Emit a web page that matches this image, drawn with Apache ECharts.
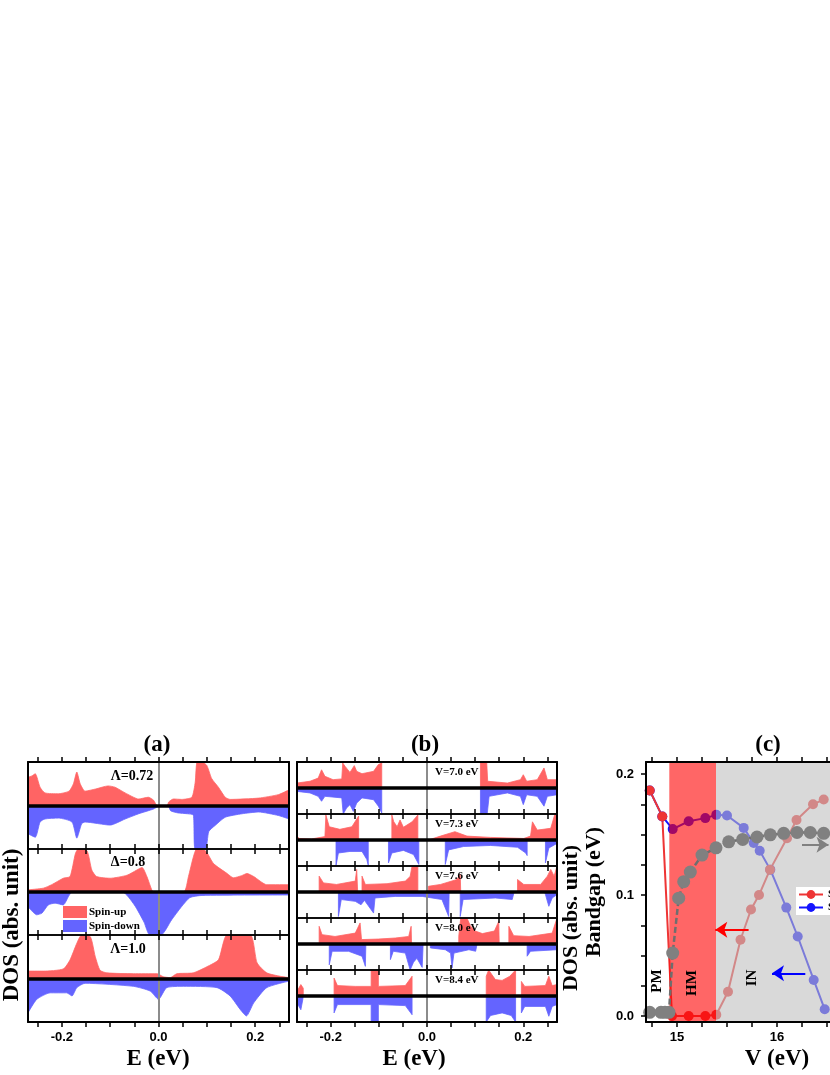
<!DOCTYPE html>
<html><head><meta charset="utf-8">
<script src="https://cdn.jsdelivr.net/npm/echarts@6/dist/echarts.min.js"></script>
<style>html,body{margin:0;padding:0;background:#fff}#c{width:830px;height:1075px}</style>
</head><body><div id="c"></div>
<script>
// ---------------- DATA ----------------
const E_TICKS = [-0.25,-0.2,-0.15,-0.1,-0.05,0,0.05,0.1,0.15,0.2,0.25];
const E_TICK_LABELS = [-0.2,0,0.2];
const PANEL_A_LABELS = ['Λ=0.72','Δ=0.8','Λ=1.0'];
const PANEL_B_LABELS = ['V=7.0 eV','V=7.3 eV','V=7.6 eV','V=8.0 eV','V=8.4 eV'];
const V_TICKS = [14.75,15,15.25,15.5,15.75,16,16.25,16.5];
const V_TICK_LABELS = [15,16];
const GAP_TICKS = [0,0.025,0.05,0.075,0.1,0.125,0.15,0.175,0.2];
const GAP_TICK_LABELS = [0,0.1,0.2];

// panel (a): DOS, relative units (1 = half sub-panel height)
const A1_UP = [[-0.27,0.65],[-0.262,0.68],[-0.255,0.73],[-0.245,0.42],[-0.235,0.29],[-0.207,0.27],[-0.185,0.33],[-0.176,0.5],[-0.169,0.77],[-0.162,0.5],[-0.152,0.33],[-0.13,0.38],[-0.104,0.45],[-0.09,0.42],[-0.069,0.29],[-0.041,0.15],[-0.021,0.19],[-0.01,0.12],[-0.003,0],[0.018,0],[0.021,0.08],[0.031,0.15],[0.048,0.14],[0.069,0.19],[0.076,0.54],[0.080,1.0],[0.09,1.0],[0.1,0.92],[0.11,0.62],[0.124,0.42],[0.138,0.19],[0.148,0.14],[0.207,0.17],[0.248,0.25],[0.27,0.36]];
const A1_DN = [[-0.27,-0.65],[-0.255,-0.73],[-0.245,-0.38],[-0.235,-0.31],[-0.207,-0.29],[-0.179,-0.38],[-0.169,-0.75],[-0.159,-0.42],[-0.152,-0.38],[-0.1,-0.45],[-0.069,-0.31],[-0.041,-0.19],[-0.01,-0.08],[0,-0.02],[0.02,0],[0.025,-0.12],[0.04,-0.17],[0.06,-0.19],[0.072,-0.22],[0.076,-1.0],[0.097,-1.0],[0.104,-0.6],[0.117,-0.46],[0.138,-0.27],[0.173,-0.19],[0.207,-0.15],[0.248,-0.23],[0.27,-0.31]];
const A2_UP = [[-0.27,0.05],[-0.238,0.09],[-0.221,0.17],[-0.197,0.32],[-0.183,0.36],[-0.172,0.89],[-0.166,1.0],[-0.148,0.96],[-0.138,0.51],[-0.128,0.36],[-0.1,0.32],[-0.065,0.39],[-0.045,0.51],[-0.034,0.57],[-0.024,0.36],[-0.014,0.05],[-0.01,0],[0.052,0],[0.062,0.36],[0.072,0.81],[0.079,1.0],[0.097,0.96],[0.114,0.66],[0.142,0.43],[0.155,0.33],[0.172,0.38],[0.183,0.43],[0.197,0.36],[0.224,0.17],[0.27,0.17]];
const A2_DN = [[-0.27,-0.34],[-0.252,-0.53],[-0.241,-0.49],[-0.228,-0.3],[-0.214,-0.26],[-0.197,-0.3],[-0.186,-0.1],[-0.179,0],[-0.075,0],[-0.05,-0.3],[-0.03,-0.7],[-0.018,-1.0],[0.005,-1.0],[0.027,-0.65],[0.047,-0.35],[0.065,-0.13],[0.09,-0.08],[0.27,-0.07]];
const A3_UP = [[-0.27,0.17],[-0.238,0.17],[-0.197,0.22],[-0.183,0.43],[-0.169,0.81],[-0.159,1.0],[-0.141,0.96],[-0.131,0.51],[-0.121,0.19],[-0.107,0.13],[-0.052,0.11],[-0.003,0.11],[0.01,0.04],[0.024,0.02],[0.038,0.11],[0.072,0.13],[0.1,0.27],[0.124,0.43],[0.142,1.0],[0.19,1.0],[0.204,0.36],[0.224,0.13],[0.252,0.05],[0.27,0.02]];
const A3_DN = [[-0.27,-0.79],[-0.252,-0.48],[-0.224,-0.33],[-0.19,-0.33],[-0.179,-0.4],[-0.169,-0.21],[-0.152,-0.11],[-0.052,-0.18],[-0.017,-0.29],[0,-0.48],[0.017,-0.21],[0.052,-0.18],[0.121,-0.21],[0.148,-0.4],[0.169,-0.71],[0.182,-0.86],[0.197,-0.56],[0.224,-0.21],[0.27,-0.06]];

// panel (b)
const B1_UP = [[-0.27,0.19],[-0.243,0.26],[-0.226,0.38],[-0.219,0.7],[-0.212,0.45],[-0.195,0.32],[-0.177,0.35],[-0.175,0.96],[-0.17,0.83],[-0.16,0.6],[-0.151,0.86],[-0.146,0.64],[-0.135,0.55],[-0.111,0.64],[-0.101,0.9],[-0.094,0.96],[-0.094,0],[0.111,0],[0.111,1.0],[0.124,1.0],[0.126,0.26],[0.167,0.19],[0.194,0.32],[0.2,0.51],[0.207,0.26],[0.229,0.32],[0.243,0.77],[0.25,0.32],[0.27,0.32]];
const B1_DN = [[-0.27,-0.13],[-0.243,-0.19],[-0.226,-0.32],[-0.219,-0.51],[-0.212,-0.32],[-0.177,-0.38],[-0.174,-1.0],[-0.167,-0.77],[-0.16,-0.64],[-0.153,-0.9],[-0.146,-0.58],[-0.135,-0.38],[-0.111,-0.45],[-0.101,-0.7],[-0.094,-0.96],[-0.094,0],[0.111,0],[0.111,-1.0],[0.125,-1.0],[0.129,-0.32],[0.167,-0.19],[0.194,-0.32],[0.2,-0.64],[0.207,-0.26],[0.229,-0.32],[0.243,-0.7],[0.25,-0.32],[0.27,-0.26]];
const B2_UP = [[-0.27,0.13],[-0.265,0.06],[-0.24,0.04],[-0.212,0.13],[-0.21,0.96],[-0.203,0.51],[-0.181,0.41],[-0.156,0.51],[-0.142,0.92],[-0.142,0],[-0.073,0],[-0.073,0.96],[-0.069,0.7],[-0.062,0.51],[-0.056,0.77],[-0.049,0.49],[-0.031,0.7],[-0.019,0.96],[-0.019,0],[0.003,0],[0.003,0.06],[0.028,0.15],[0.058,0.32],[0.083,0.15],[0.132,0.1],[0.201,0.06],[0.215,0.15],[0.219,0.7],[0.229,0.38],[0.257,0.45],[0.265,0.96],[0.27,0.96]];
const B2_DN = [[-0.27,0],[-0.189,0],[-0.189,-0.98],[-0.184,-0.5],[-0.16,-0.44],[-0.135,-0.44],[-0.125,-0.75],[-0.122,-0.98],[-0.122,0],[-0.08,0],[-0.08,-0.88],[-0.073,-0.5],[-0.049,-0.4],[-0.028,-0.56],[-0.017,-0.94],[-0.017,0],[0.038,0],[0.038,-0.94],[0.045,-0.38],[0.076,-0.25],[0.132,-0.21],[0.188,-0.28],[0.205,-0.5],[0.208,-0.6],[0.208,0],[0.246,0],[0.246,-0.88],[0.253,-0.31],[0.27,-0.13]];
const B3_UP = [[-0.27,0],[-0.224,0],[-0.224,0.61],[-0.215,0.35],[-0.188,0.29],[-0.149,0.42],[-0.146,0.87],[-0.144,0],[-0.135,0],[-0.135,0.61],[-0.128,0.29],[-0.083,0.32],[-0.045,0.42],[-0.035,0.6],[-0.031,1.0],[-0.019,1.0],[-0.019,0],[0.003,0],[0.003,0.22],[0.028,0.29],[0.062,0.48],[0.069,0.68],[0.07,0],[0.188,0],[0.188,0.48],[0.201,0.29],[0.236,0.29],[0.25,0.61],[0.257,0.87],[0.264,0.61],[0.27,1.0]];
const B3_DN = [[-0.27,0],[-0.184,0],[-0.184,-0.94],[-0.178,-0.29],[-0.149,-0.36],[-0.137,-0.49],[-0.13,-0.32],[-0.111,-0.81],[-0.108,-0.23],[-0.066,-0.17],[-0.01,-0.17],[0.031,-0.29],[0.045,-0.94],[0.046,0],[0.069,0],[0.069,-0.94],[0.075,-0.29],[0.142,-0.23],[0.177,-0.29],[0.181,-0.35],[0.181,0],[0.244,0],[0.246,-0.1],[0.253,-0.55],[0.26,-0.23],[0.27,-0.1]];
const B4_UP = [[-0.27,0],[-0.224,0],[-0.224,0.68],[-0.218,0.36],[-0.191,0.29],[-0.149,0.42],[-0.139,0.81],[-0.136,0.17],[-0.101,0.19],[-0.066,0.23],[-0.038,0.29],[-0.033,0.68],[-0.032,0],[0.066,0],[0.066,0.3],[0.07,1.0],[0.083,1.0],[0.09,0.7],[0.1,0.5],[0.115,0.4],[0.14,0.5],[0.149,0.87],[0.15,0],[0.17,0],[0.17,0.68],[0.18,0.32],[0.212,0.29],[0.26,0.42],[0.27,1.0]];
const B4_DN = [[-0.27,0],[-0.203,0],[-0.203,-0.8],[-0.197,-0.28],[-0.163,-0.28],[-0.135,-0.47],[-0.128,-0.86],[-0.127,0],[-0.076,0],[-0.076,-0.6],[-0.07,-0.28],[-0.045,-0.35],[-0.035,-1.0],[-0.028,-0.7],[-0.021,-0.55],[-0.01,-0.9],[-0.008,0],[0.007,0],[0.007,-0.15],[0.038,-0.22],[0.049,-0.35],[0.052,-0.92],[0.056,-0.35],[0.087,-0.22],[0.101,-0.28],[0.104,-0.3],[0.104,0],[0.208,0],[0.208,-0.47],[0.215,-0.28],[0.27,-0.22]];
const B5_UP = [[-0.27,0.18],[-0.262,0.44],[-0.257,0.3],[-0.257,0],[-0.193,0],[-0.193,0.69],[-0.186,0.4],[-0.149,0.37],[-0.116,0.37],[-0.116,1.0],[-0.101,1.0],[-0.101,0.37],[-0.045,0.4],[-0.031,0.76],[-0.031,0],[0.123,0],[0.123,0.76],[0.128,1.0],[0.142,0.63],[0.156,0.6],[0.172,0.76],[0.184,1.0],[0.184,0],[0.196,0],[0.196,0.56],[0.203,0.37],[0.246,0.4],[0.253,0.76],[0.26,0.4],[0.27,0.44]];
const B5_DN = [[-0.27,-0.27],[-0.262,-0.53],[-0.258,-0.14],[-0.257,0],[-0.193,0],[-0.193,-0.65],[-0.186,-0.33],[-0.116,-0.33],[-0.116,-1.0],[-0.101,-1.0],[-0.101,-0.33],[-0.045,-0.37],[-0.031,-0.72],[-0.031,0],[0.123,0],[0.123,-1.0],[0.132,-0.75],[0.156,-0.65],[0.175,-0.75],[0.184,-1.0],[0.184,0],[0.196,0],[0.196,-0.65],[0.203,-0.4],[0.246,-0.4],[0.253,-0.78],[0.26,-0.4],[0.27,-0.33]];

// panel (c): V (eV) vs bandgap (eV)
const GAP_UP = [[14.727,0.1865],[14.853,0.165],[14.95,0.0],[15.117,0.0],[15.283,0.0],[15.393,0.001],[15.51,0.02],[15.635,0.063],[15.74,0.088],[15.82,0.1],[15.93,0.121],[16.1,0.147],[16.195,0.162],[16.36,0.175],[16.467,0.179]];
const GAP_DN = [[14.727,0.1865],[14.853,0.165],[14.957,0.1545],[15.117,0.161],[15.283,0.1636],[15.393,0.1663],[15.5,0.1658],[15.667,0.1555],[15.767,0.143],[15.827,0.1366],[15.933,0.121],[16.093,0.0896],[16.207,0.0657],[16.367,0.0298],[16.477,0.0055]];
const DOS_EF = [[14.727,0.003],[14.84,0.003],[14.88,0.003],[14.92,0.003],[14.957,0.052],[15.017,0.0974],[15.067,0.111],[15.133,0.119],[15.25,0.133],[15.39,0.139],[15.517,0.144],[15.657,0.146],[15.8,0.148],[15.933,0.1498],[16.067,0.151],[16.2,0.1517],[16.333,0.1517],[16.467,0.151]];
const PHASE_BANDS = [[14.923,15.39],[15.39,16.53]];
const ARROW_UP = [[15.716,0.0712],[15.383,0.0712]];
const ARROW_DN = [[16.283,0.0353],[15.95,0.0353]];
const ARROW_DOS = [[16.25,0.1415],[16.515,0.1415]];

// ---------------- STYLE / LAYOUT ----------------
const RED = '#ff6464', BLUE = '#6464ff';
const SERIF = 'Liberation Serif', SANS = 'Liberation Sans';
const grids = [], xAxes = [], yAxes = [], series = [];

function labelStyle(){ return {fontSize:13, fontWeight:'bold', fontFamily:SANS, color:'#000'}; }

function addGrid(g){
  const gi = grids.length;
  grids.push({left:g.left, top:g.top, width:g.width, height:g.height, show:false});
  const xa = (pos, lw, labels) => ({
    type:'value', gridIndex:gi, position:pos, min:g.xmin, max:g.xmax, z:10,
    axisLine:{show:true, onZero:false, lineStyle:{color:'#000', width:lw}},
    axisTick:{show:true, inside:false, length:5, customValues:g.xticks, lineStyle:{color:'#000', width:1.5}},
    axisLabel:Object.assign({show:labels, customValues:g.xlabels, formatter:g.xfmt, margin:9}, labelStyle()),
    splitLine:{show:false}
  });
  xAxes.push(xa('bottom', g.bottomW, g.showX));
  xAxes.push(xa('top', g.topW, false));
  const ya = (pos, isLeft) => ({
    type:'value', gridIndex:gi, position:pos, min:g.ymin, max:g.ymax, z:10,
    axisLine:{show: isLeft || !g.hideRight, onZero:false, lineStyle:{color:'#000', width:2}},
    axisTick:{show: !!(isLeft && g.yticks), inside:false, length:5, customValues:g.yticks || [], lineStyle:{color:'#000', width:1.5}},
    axisLabel:Object.assign({show: !!(isLeft && g.ylabels), customValues:g.ylabels || [], formatter:v=>v.toFixed(1), margin:12}, labelStyle()),
    splitLine:{show:false}
  });
  yAxes.push(ya('left', true));
  yAxes.push(ya('right', false));
  return {x: xAxes.length-2, y: yAxes.length-2};
}

function addDos(left, width, top, height, isTop, isBottom, up, dn, smooth){
  const idx = addGrid({left, width, top, height, xmin:-0.27, xmax:0.27, ymin:-1, ymax:1,
    xticks:E_TICKS, xlabels:E_TICK_LABELS, xfmt:v=>v.toFixed(1),
    showX:isBottom, bottomW:isBottom?2:1.5, topW:isTop?2:1.5});
  const common = {type:'line', xAxisIndex:idx.x, yAxisIndex:idx.y, symbol:'none', showSymbol:false,
    smooth:smooth, clip:true, silent:true, z:2};
  series.push(Object.assign({}, common, {name:'Spin-up', data:up, color:RED,
    lineStyle:{width:0.8, color:RED}, areaStyle:{color:RED, opacity:1}}));
  series.push(Object.assign({}, common, {name:'Spin-down', data:dn, color:BLUE,
    lineStyle:{width:0.8, color:BLUE}, areaStyle:{color:BLUE, opacity:1},
    markLine:{silent:true, symbol:['none','none'], label:{show:false}, animation:false,
      data:[{xAxis:0, lineStyle:{color:'#8c8c8c', width:2, type:'solid'}},
            {yAxis:0, lineStyle:{color:'#000', width:3.5, type:'solid'}}]}}));
}

// panel (a)
const A_DATA = [[A1_UP,A1_DN],[A2_UP,A2_DN],[A3_UP,A3_DN]];
const A_TOPS = [762, 849, 935], A_H = [87, 86, 87];
A_DATA.forEach((d,i)=> addDos(28, 261, A_TOPS[i], A_H[i], i===0, i===2, d[0], d[1], 0.2));

// panel (b)
const B_DATA = [[B1_UP,B1_DN],[B2_UP,B2_DN],[B3_UP,B3_DN],[B4_UP,B4_DN],[B5_UP,B5_DN]];
B_DATA.forEach((d,i)=> addDos(297, 260, 762 + 52*i, 52, i===0, i===4, d[0], d[1], false));

// panel (c) (cut at the right edge of the picture)
const ci = addGrid({left:646, width:184, top:762, height:260, xmin:14.69, xmax:16.53, ymin:-0.005, ymax:0.21,
  xticks:V_TICKS, xlabels:V_TICK_LABELS, xfmt:v=>String(Math.round(v)),
  yticks:GAP_TICKS, ylabels:GAP_TICK_LABELS, showX:true, bottomW:2, topW:2, hideRight:true});
const BAND_FILLS = ['rgba(255,0,0,0.6)', 'rgba(192,192,192,0.6)'];
const arrowML = (pts, color) => ({silent:true, animation:false, symbol:['none','arrow'], symbolSize:12,
  label:{show:false}, lineStyle:{color, width:2, type:'solid', opacity:1}, itemStyle:{color},
  data:[[{coord:pts[0]},{coord:pts[1]}]]});
series.push({type:'line', name:'Spin-down gap', xAxisIndex:ci.x, yAxisIndex:ci.y, data:GAP_DN, z:2,
  color:'#1414ff', symbol:'circle', symbolSize:10, lineStyle:{width:2, color:'#1414ff'}, itemStyle:{color:'#1414ff'},
  markLine:arrowML(ARROW_DN, '#0000ff')});
series.push({type:'line', name:'Spin-up gap', xAxisIndex:ci.x, yAxisIndex:ci.y, data:GAP_UP, z:2,
  color:'#ee3535', symbol:'circle', symbolSize:10, lineStyle:{width:2, color:'#ee3535'}, itemStyle:{color:'#ee3535'},
  markLine:arrowML(ARROW_UP, '#ff0000')});
series.push({type:'custom', name:'phases', xAxisIndex:ci.x, yAxisIndex:ci.y, data:PHASE_BANDS, z:3, silent:true, clip:true,
  encode:{x:[0,1]},
  renderItem:(params, api)=>{
    const cs = params.coordSys;
    const x0 = api.coord([api.value(0), 0])[0], x1 = api.coord([api.value(1), 0])[0];
    return {type:'rect', shape:{x:x0, y:cs.y, width:x1-x0, height:cs.height}, style:{fill:BAND_FILLS[params.dataIndex]}};
  }});
series.push({type:'line', name:'DOS at EF', xAxisIndex:ci.x, yAxisIndex:ci.y, data:DOS_EF, z:4,
  color:'#808080', symbol:'circle', symbolSize:13, lineStyle:{width:2.5, color:'#6e6e6e', type:[6,3]}, itemStyle:{color:'#808080'},
  markLine:arrowML(ARROW_DOS, '#808080')});

// ---------------- TEXT ----------------
const T = (text, x, y, size, opts) => Object.assign({type:'text', x, y, z:50, silent:true,
  style:{text, fontSize:size, fontWeight:'bold', fontFamily:SERIF, fill:'#000', align:'center', verticalAlign:'middle'}}, opts||{});
const R = (text, x, y, size) => T(text, x, y, size, {rotation:Math.PI/2});
const graphics = [
  T('(a)',157,745,23), T('(b)',425,745,23), T('(c)',768,745,23),
  T('E (eV)',158,1059,23), T('E (eV)',414,1059,23), T('V (eV)',777,1059,23),
  R('DOS (abs. unit)',12,925,23), R('DOS (abs. unit)',571,918,22), R('Bandgap (eV)',594,892,22),
  R('PM',657,981,15), R('HM',692,983,15), R('IN',752,978,15)
];
const A_LABEL_POS = [[132,776],[128,862],[128,949]];
PANEL_A_LABELS.forEach((t,i)=>graphics.push(T(t, A_LABEL_POS[i][0], A_LABEL_POS[i][1], 14)));
PANEL_B_LABELS.forEach((t,i)=>{ const g = T(t, 435, 772 + 52*i, 11); g.style.align='left'; graphics.push(g); });

const chart = echarts.init(document.getElementById('c'), null, {renderer:'canvas'});
chart.setOption({
  animation:false,
  backgroundColor:'#fff',
  textStyle:{fontFamily:SERIF},
  grid:grids, xAxis:xAxes, yAxis:yAxes, series:series,
  legend:[
    {data:['Spin-up','Spin-down'], left:63, top:906, orient:'vertical', icon:'rect', itemWidth:24, itemHeight:12,
     itemGap:2, padding:0, z:20, selectedMode:false,
     textStyle:{fontFamily:SERIF, fontWeight:'bold', fontSize:11, color:'#000', padding:[0,0,0,-3]}},
    {data:['Spin-up gap','Spin-down gap'], left:796, top:887, orient:'vertical', itemWidth:24, itemHeight:11,
     itemGap:2, padding:[2,2], backgroundColor:'#fff', z:20, selectedMode:false,
     formatter:n=>n.replace(' gap',''),
     textStyle:{fontFamily:SERIF, fontWeight:'bold', fontSize:11, color:'#000'}}
  ],
  graphic:graphics
});
</script></body></html>
